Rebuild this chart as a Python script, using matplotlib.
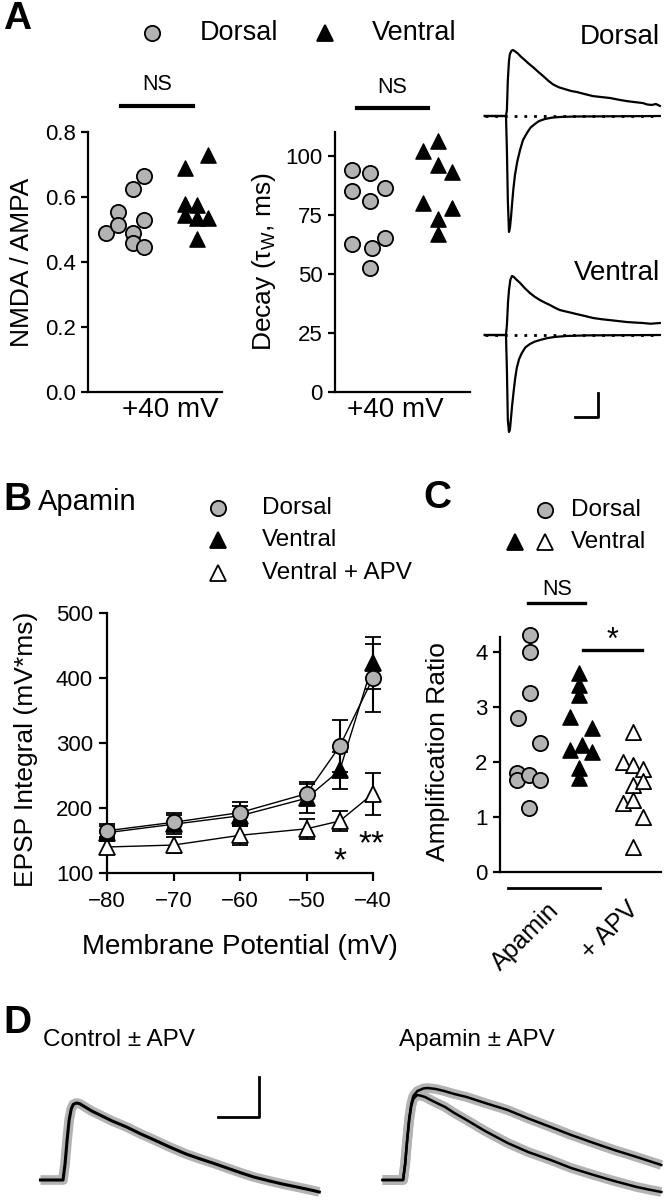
import matplotlib
matplotlib.use("Agg")
import matplotlib.pyplot as plt
import numpy as np

# ---------------- data ----------------
# A: NMDA/AMPA ratio and weighted decay at +40 mV
nmda_ampa_dorsal = [0.49, 0.555, 0.515, 0.49, 0.46, 0.445, 0.53, 0.625, 0.665]
nmda_ampa_ventral = [0.69, 0.73, 0.58, 0.575, 0.545, 0.535, 0.535, 0.47]
jit_ratio_dorsal = [-0.27, -0.1, -0.1, 0.11, 0.11, 0.27, 0.27, 0.11, 0.27]
jit_ratio_ventral = [-0.14, 0.19, -0.14, 0.03, -0.14, 0.03, 0.19, 0.03]

decay_dorsal = [94, 92.5, 85, 86.5, 81, 62.5, 61, 65, 52.5]
decay_ventral = [106, 102, 96, 93, 80, 78, 73, 67]
jit_decay_dorsal = [-0.18, 0.07, -0.18, 0.27, 0.07, -0.18, 0.1, 0.27, 0.07]
jit_decay_ventral = [0, -0.2, 0, 0.19, -0.2, 0.19, 0, 0]

# A: example currents (ms, pA); upper = +40 mV, lower = -70 mV
dors_up_t = [-9.6, -0.4, 0, 0.4, 0.9, 1.3, 2.0, 2.6, 3.5, 4.8, 6, 7.8, 9.5, 11.3, 13.5, 15.7, 18, 20,
             22.5, 25.2, 28, 30.4, 34, 37.4, 41, 44.8, 48.5, 52.2, 55.5, 59.1, 61, 63, 64.8, 66.5]
dors_up_i = [0, 0, 25, 150, 230, 258, 272, 275, 270, 260, 248, 233, 218, 204, 185, 167, 147, 132,
             120, 112, 104, 100, 91, 83, 79, 75, 68, 62, 58, 54, 48, 46, 50, 42]
dors_lo_t = [-9.6, -0.4, 0, 0.4, 0.9, 1.3, 1.8, 2.2, 2.8, 3.5, 4.5, 5.7, 7, 8.7, 10.3, 12.2, 14,
             16.5, 19.5, 23, 30, 66.5]
dors_lo_i = [0, 0, -142, -350, -483, -467, -420, -371, -305, -246, -190, -142, -100, -71, -48, -33,
             -21, -12.5, -7, -4, -2, 0]
vent_up_t = [-9.6, -0.4, 0, 0.5, 0.9, 1.5, 2.2, 3, 3.9, 5.7, 7.8, 10, 12, 14.3, 16.5, 18.7, 21, 23,
             26.5, 30.4, 34, 37.4, 41, 44.8, 48.5, 52.2, 55.5, 59.1, 62.5, 66.5]
vent_up_i = [0, 0, 42, 140, 187, 230, 246, 242, 233, 217, 195, 175, 160, 146, 135, 125, 113, 104,
             96, 87, 79, 71, 66, 62, 58, 54, 52, 50, 47, 50]
vent_lo_t = [-9.6, -0.4, 0, 0.4, 0.9, 1.3, 1.7, 2.3, 3, 3.6, 4.3, 5.3, 6.5, 8, 10, 12, 14.3, 17.5,
             20.9, 26, 35, 66.5]
vent_lo_i = [0, 0, -146, -354, -404, -395, -354, -290, -229, -180, -137, -100, -75, -52, -37.5, -28,
             -21, -13, -8, -4, -1.5, 0]

# B: EPSP integral vs membrane potential (mean, SEM)
vm = [-80, -70, -60, -50, -45, -40]
epsp_dorsal = [165, 178, 193, 222, 295, 400]
sem_dorsal = [10, 14, 17, 18, 40, 52]
epsp_ventral = [162, 175, 188, 215, 258, 423]
sem_ventral = [10, 15, 15, 22, 28, 40]
epsp_apv = [140, 143, 158, 168, 180, 222]
sem_apv = [10, 12, 15, 15, 15, 32]

# C: amplification ratio
amp_dorsal = [4.3, 4.0, 3.25, 2.8, 2.35, 1.8, 1.68, 1.76, 1.67, 1.17]
amp_ventral = [3.62, 3.4, 3.22, 2.82, 2.62, 2.22, 2.31, 2.18, 1.89, 1.7]
amp_apv = [2.55, 2.0, 1.95, 1.88, 1.58, 1.65, 1.25, 1.3, 1.0, 0.45]
jit_amp_dorsal = [0, 0, 0, -0.23, 0.19, -0.25, -0.25, -0.02, 0.19, -0.02]
jit_amp_ventral = [-0.04, -0.04, -0.04, -0.23, 0.21, -0.23, 0, 0.21, -0.04, -0.04]
jit_amp_apv = [0, -0.19, 0, 0.2, 0, 0.2, -0.19, 0, 0.2, 0]
c_labels = ["Apamin", "+ APV"]

# D: average EPSPs (ms, mV)
ctrl_t = [-11, 0, 1, 2, 3, 4, 5, 6.5, 8, 10, 14, 18, 24, 31, 38, 45, 52, 60, 67, 73, 80, 87, 93,
          100, 107, 114, 120, 125]
ctrl_v = [0, 0, 0.8, 2.0, 3.0, 3.55, 3.78, 3.85, 3.82, 3.7, 3.45, 3.25, 2.95, 2.65, 2.3, 1.98, 1.65,
          1.3, 1.05, 0.85, 0.6, 0.35, 0.15, -0.03, -0.2, -0.35, -0.48, -0.6]
apa_t = [-10, 0, 1, 2, 3, 4, 5, 7, 10, 12, 16, 20, 25, 31, 40, 51, 61, 72, 82, 93, 103, 114, 120, 126]
apa_v = [0, 0, 0.8, 2.0, 3.1, 3.8, 4.2, 4.45, 4.58, 4.6, 4.55, 4.45, 4.3, 4.15, 3.85, 3.5, 3.08,
         2.65, 2.25, 1.85, 1.5, 1.15, 0.95, 0.75]
apa_apv_t = [-10, 0, 1, 2, 3, 4, 5, 6.8, 8.5, 10.7, 15, 20.5, 25, 31, 40, 51, 61, 72, 82, 93, 103,
             114, 120, 126]
apa_apv_v = [0, 0, 0.8, 2.0, 3.0, 3.7, 4.05, 4.25, 4.22, 4.15, 3.92, 3.65, 3.35, 3.0, 2.45, 1.85,
             1.4, 1.0, 0.6, 0.25, -0.05, -0.35, -0.48, -0.6]

# ---------------- layout ----------------
W, H = 664, 1200
GRAY = "#b3b3b3"
plt.rcParams["font.family"] = ["Liberation Sans", "DejaVu Sans"]
plt.rcParams["mathtext.default"] = "regular"

fig = plt.figure(figsize=(W / 100, H / 100), dpi=100)

# overlay in pixel units for panel letters and legends
ov = fig.add_axes([0, 0, 1, 1])
ov.set_xlim(0, W)
ov.set_ylim(H, 0)
ov.axis("off")


def box(x0, y0, x1, y1):
    return [x0 / W, 1 - y1 / H, (x1 - x0) / W, (y1 - y0) / H]


def new_axes(x0, y0, x1, y1):
    ax = fig.add_axes(box(x0, y0, x1, y1))
    ax.set_facecolor("none")
    ax._px = (x0, y0, x1, y1)
    return ax


def style(ax):
    for s in ["top", "right"]:
        ax.spines[s].set_visible(False)
    for s in ["left", "bottom"]:
        ax.spines[s].set_linewidth(1.6)
    ax.tick_params(width=1.6, length=5, labelsize=16, pad=4)


def label_at(ax, which, text, px, py, size=19):
    x0, y0, x1, y1 = ax._px
    fx = (px - x0) / (x1 - x0)
    fy = (y1 - py) / (y1 - y0)
    if which == "y":
        ax.set_ylabel(text, fontsize=size)
        ax.yaxis.set_label_coords(fx, fy)
        ax.yaxis.label.set_va("center")
    else:
        ax.set_xlabel(text, fontsize=size)
        ax.xaxis.set_label_coords(fx, fy)
        ax.xaxis.label.set_va("center")


def legend_row(y, text, markers, size=17.5, tx=None):
    for mx, mk, fc in markers:
        ov.plot([mx], [y], marker=mk, ms=11, mfc=fc, mec="k", mew=1.3, ls="none")
    ov.text(tx, y, text, fontsize=size, ha="left", va="center")


# ---------------- A ----------------
ov.text(17, 19, "A", fontsize=28, fontweight="bold", ha="center", va="center")
legend_row(33, "Dorsal", [(152, "o", GRAY)], size=19.5, tx=200)
legend_row(33, "Ventral", [(325, "^", "k")], size=19.5, tx=372)

axr = new_axes(88, 132, 222, 392)
style(axr)
axr.scatter(1 + np.array(jit_ratio_dorsal), nmda_ampa_dorsal, s=120, marker="o",
            facecolor=GRAY, edgecolor="k", linewidth=1.3, zorder=3, clip_on=False)
axr.scatter(2 + np.array(jit_ratio_ventral), nmda_ampa_ventral, s=120, marker="^",
            facecolor="k", edgecolor="k", linewidth=1.0, zorder=3, clip_on=False)
axr.set_xlim(0.47, 2.39)
axr.set_ylim(0, 0.8)
axr.set_yticks([0, 0.2, 0.4, 0.6, 0.8])
axr.set_xticks([])
axr.plot([0.94, 1.97], [0.88, 0.88], color="k", lw=3, clip_on=False)
axr.text(1.455, 0.945, "NS", fontsize=15.5, ha="center", va="center")
label_at(axr, "y", "NMDA / AMPA", 22, 262)
label_at(axr, "x", "+40 mV", 170, 410, size=20)

axd = new_axes(335, 132, 470, 392)
style(axd)
axd.scatter(1 + np.array(jit_decay_dorsal), decay_dorsal, s=120, marker="o",
            facecolor=GRAY, edgecolor="k", linewidth=1.3, zorder=3, clip_on=False)
axd.scatter(2 + np.array(jit_decay_ventral), decay_ventral, s=120, marker="^",
            facecolor="k", edgecolor="k", linewidth=1.0, zorder=3, clip_on=False)
axd.set_xlim(0.59, 2.44)
axd.set_ylim(0, 110)
axd.set_yticks([0, 25, 50, 75, 100])
axd.set_xticks([])
axd.plot([0.89, 1.86], [120, 120], color="k", lw=3, clip_on=False)
axd.text(1.375, 129, "NS", fontsize=15.5, ha="center", va="center")
label_at(axd, "y", "Decay (τ$_{W}$, ms)", 264, 262)
label_at(axd, "x", "+40 mV", 395, 410, size=20)

# example traces
for (y0, y1, ylim, up, lo, name, ny) in [
        (40, 240, (-516.7, 316.7), (dors_up_t, dors_up_i), (dors_lo_t, dors_lo_i), "Dorsal", 37),
        (250, 440, (-437.5, 354.2), (vent_up_t, vent_up_i), (vent_lo_t, vent_lo_i), "Ventral", 273)]:
    axt = new_axes(480, y0, 664, y1)
    axt.axis("off")
    axt.set_xlim(-11.7, 68.3)
    axt.set_ylim(*ylim)
    axt.plot([-9.6, 66.5], [0, 0], color="k", lw=2, ls=(0, (1, 2.5)))
    axt.plot(up[0], up[1], color="k", lw=1.6)
    axt.plot(lo[0], lo[1], color="k", lw=1.6)
    ov.text(660, ny, name, fontsize=20, ha="right", va="center")
# 10 ms / 100 pA scale bar
axt.plot([29.6, 39.6, 39.6], [-341.7, -341.7, -241.7], color="k", lw=2, clip_on=False)

# ---------------- B ----------------
ov.text(17, 500, "B", fontsize=28, fontweight="bold", ha="center", va="center")
ov.text(38, 502, "Apamin", fontsize=21, ha="left", va="center")
legend_row(508, "Dorsal", [(218, "o", GRAY)], tx=262)
legend_row(540, "Ventral", [(218, "^", "k")], tx=262)
legend_row(573, "Ventral + APV", [(218, "^", "white")], tx=262)

axb = new_axes(107, 613, 373, 873)
style(axb)
axb.tick_params(length=6)
for vals, sem, mk, fc, z in [(epsp_apv, sem_apv, "^", "white", 3),
                             (epsp_ventral, sem_ventral, "^", "k", 4),
                             (epsp_dorsal, sem_dorsal, "o", GRAY, 5)]:
    eb = axb.errorbar(vm, vals, yerr=sem, fmt="-", marker=mk, color="k", mfc=fc, mec="k",
                      mew=1.3, ms=11, lw=1, elinewidth=1.5, capsize=5.5, capthick=1.5, zorder=z)
    for art in eb.get_children():
        art.set_clip_on(False)
axb.set_xlim(-80, -40)
axb.set_ylim(100, 500)
axb.set_xticks([-80, -70, -60, -50, -40])
axb.set_yticks([100, 200, 300, 400, 500])
axb.tick_params(axis="x", pad=7)
axb.text(-45, 118, "*", fontsize=24, ha="center", va="center")
axb.text(-40.3, 143, "**", fontsize=24, ha="center", va="center")
label_at(axb, "y", "EPSP Integral (mV*ms)", 26, 749)
label_at(axb, "x", "Membrane Potential (mV)", 240, 947, size=20)

# ---------------- C ----------------
ov.text(437, 498, "C", fontsize=28, fontweight="bold", ha="center", va="center")
legend_row(510, "Dorsal", [(545, "o", GRAY)], tx=571)
legend_row(542, "Ventral", [(515, "^", "k"), (545, "^", "white")], tx=571)

axc = new_axes(500, 637, 661, 872)
style(axc)
axc.scatter(1 + np.array(jit_amp_dorsal), amp_dorsal, s=120, marker="o",
            facecolor=GRAY, edgecolor="k", linewidth=1.3, zorder=3, clip_on=False)
axc.scatter(2 + np.array(jit_amp_ventral), amp_ventral, s=120, marker="^",
            facecolor="k", edgecolor="k", linewidth=1.0, zorder=3, clip_on=False)
axc.scatter(3 + np.array(jit_amp_apv), amp_apv, s=120, marker="^",
            facecolor="white", edgecolor="k", linewidth=1.3, zorder=3, clip_on=False)
axc.set_xlim(0.42, 3.54)
axc.set_ylim(0, 4.27)
axc.set_yticks([0, 1, 2, 3, 4])
axc.set_xticks([])
axc.plot([0.96, 2.07], [4.89, 4.89], color="k", lw=2.4, clip_on=False)
axc.text(1.52, 5.13, "NS", fontsize=15.5, ha="center", va="center")
axc.plot([2.03, 3.17], [4.04, 4.04], color="k", lw=2.4, clip_on=False)
axc.text(2.6, 4.2, "*", fontsize=22, ha="center", va="center")
axc.plot([0.57, 2.36], [-0.29, -0.29], color="k", lw=2, clip_on=False)
label_at(axc, "y", "Amplification Ratio", 438, 752)
ov.text(525, 937, c_labels[0], fontsize=18, rotation=45, ha="center", va="center")
ov.text(610, 930, c_labels[1], fontsize=18, rotation=45, ha="center", va="center")

# ---------------- D ----------------
ov.text(17, 1023, "D", fontsize=28, fontweight="bold", ha="center", va="center")
ov.text(119, 1040, "Control ± APV", fontsize=17.5, ha="center", va="center")
ov.text(477, 1040, "Apamin ± APV", fontsize=17.5, ha="center", va="center")

axl = new_axes(30, 1060, 340, 1200)
axl.axis("off")
axl.set_xlim(-16.1, 135.1)
axl.set_ylim(-1, 6)
axl.plot(ctrl_t, ctrl_v, color=GRAY, lw=7, solid_capstyle="butt")
axl.plot(ctrl_t, ctrl_v, color="k", lw=2.2)
# 20 ms / 2 mV scale bar
axl.plot([75.6, 95.6, 95.6], [3.15, 3.15, 5.15], color="k", lw=2)

axa = new_axes(375, 1060, 664, 1200)
axa.axis("off")
axa.set_xlim(-13.7, 127.3)
axa.set_ylim(-1, 6)
for t, v in [(apa_t, apa_v), (apa_apv_t, apa_apv_v)]:
    axa.plot(t, v, color=GRAY, lw=7, solid_capstyle="butt")
for t, v in [(apa_t, apa_v), (apa_apv_t, apa_apv_v)]:
    axa.plot(t, v, color="k", lw=1.8)

fig.savefig("out.png", dpi=100)
